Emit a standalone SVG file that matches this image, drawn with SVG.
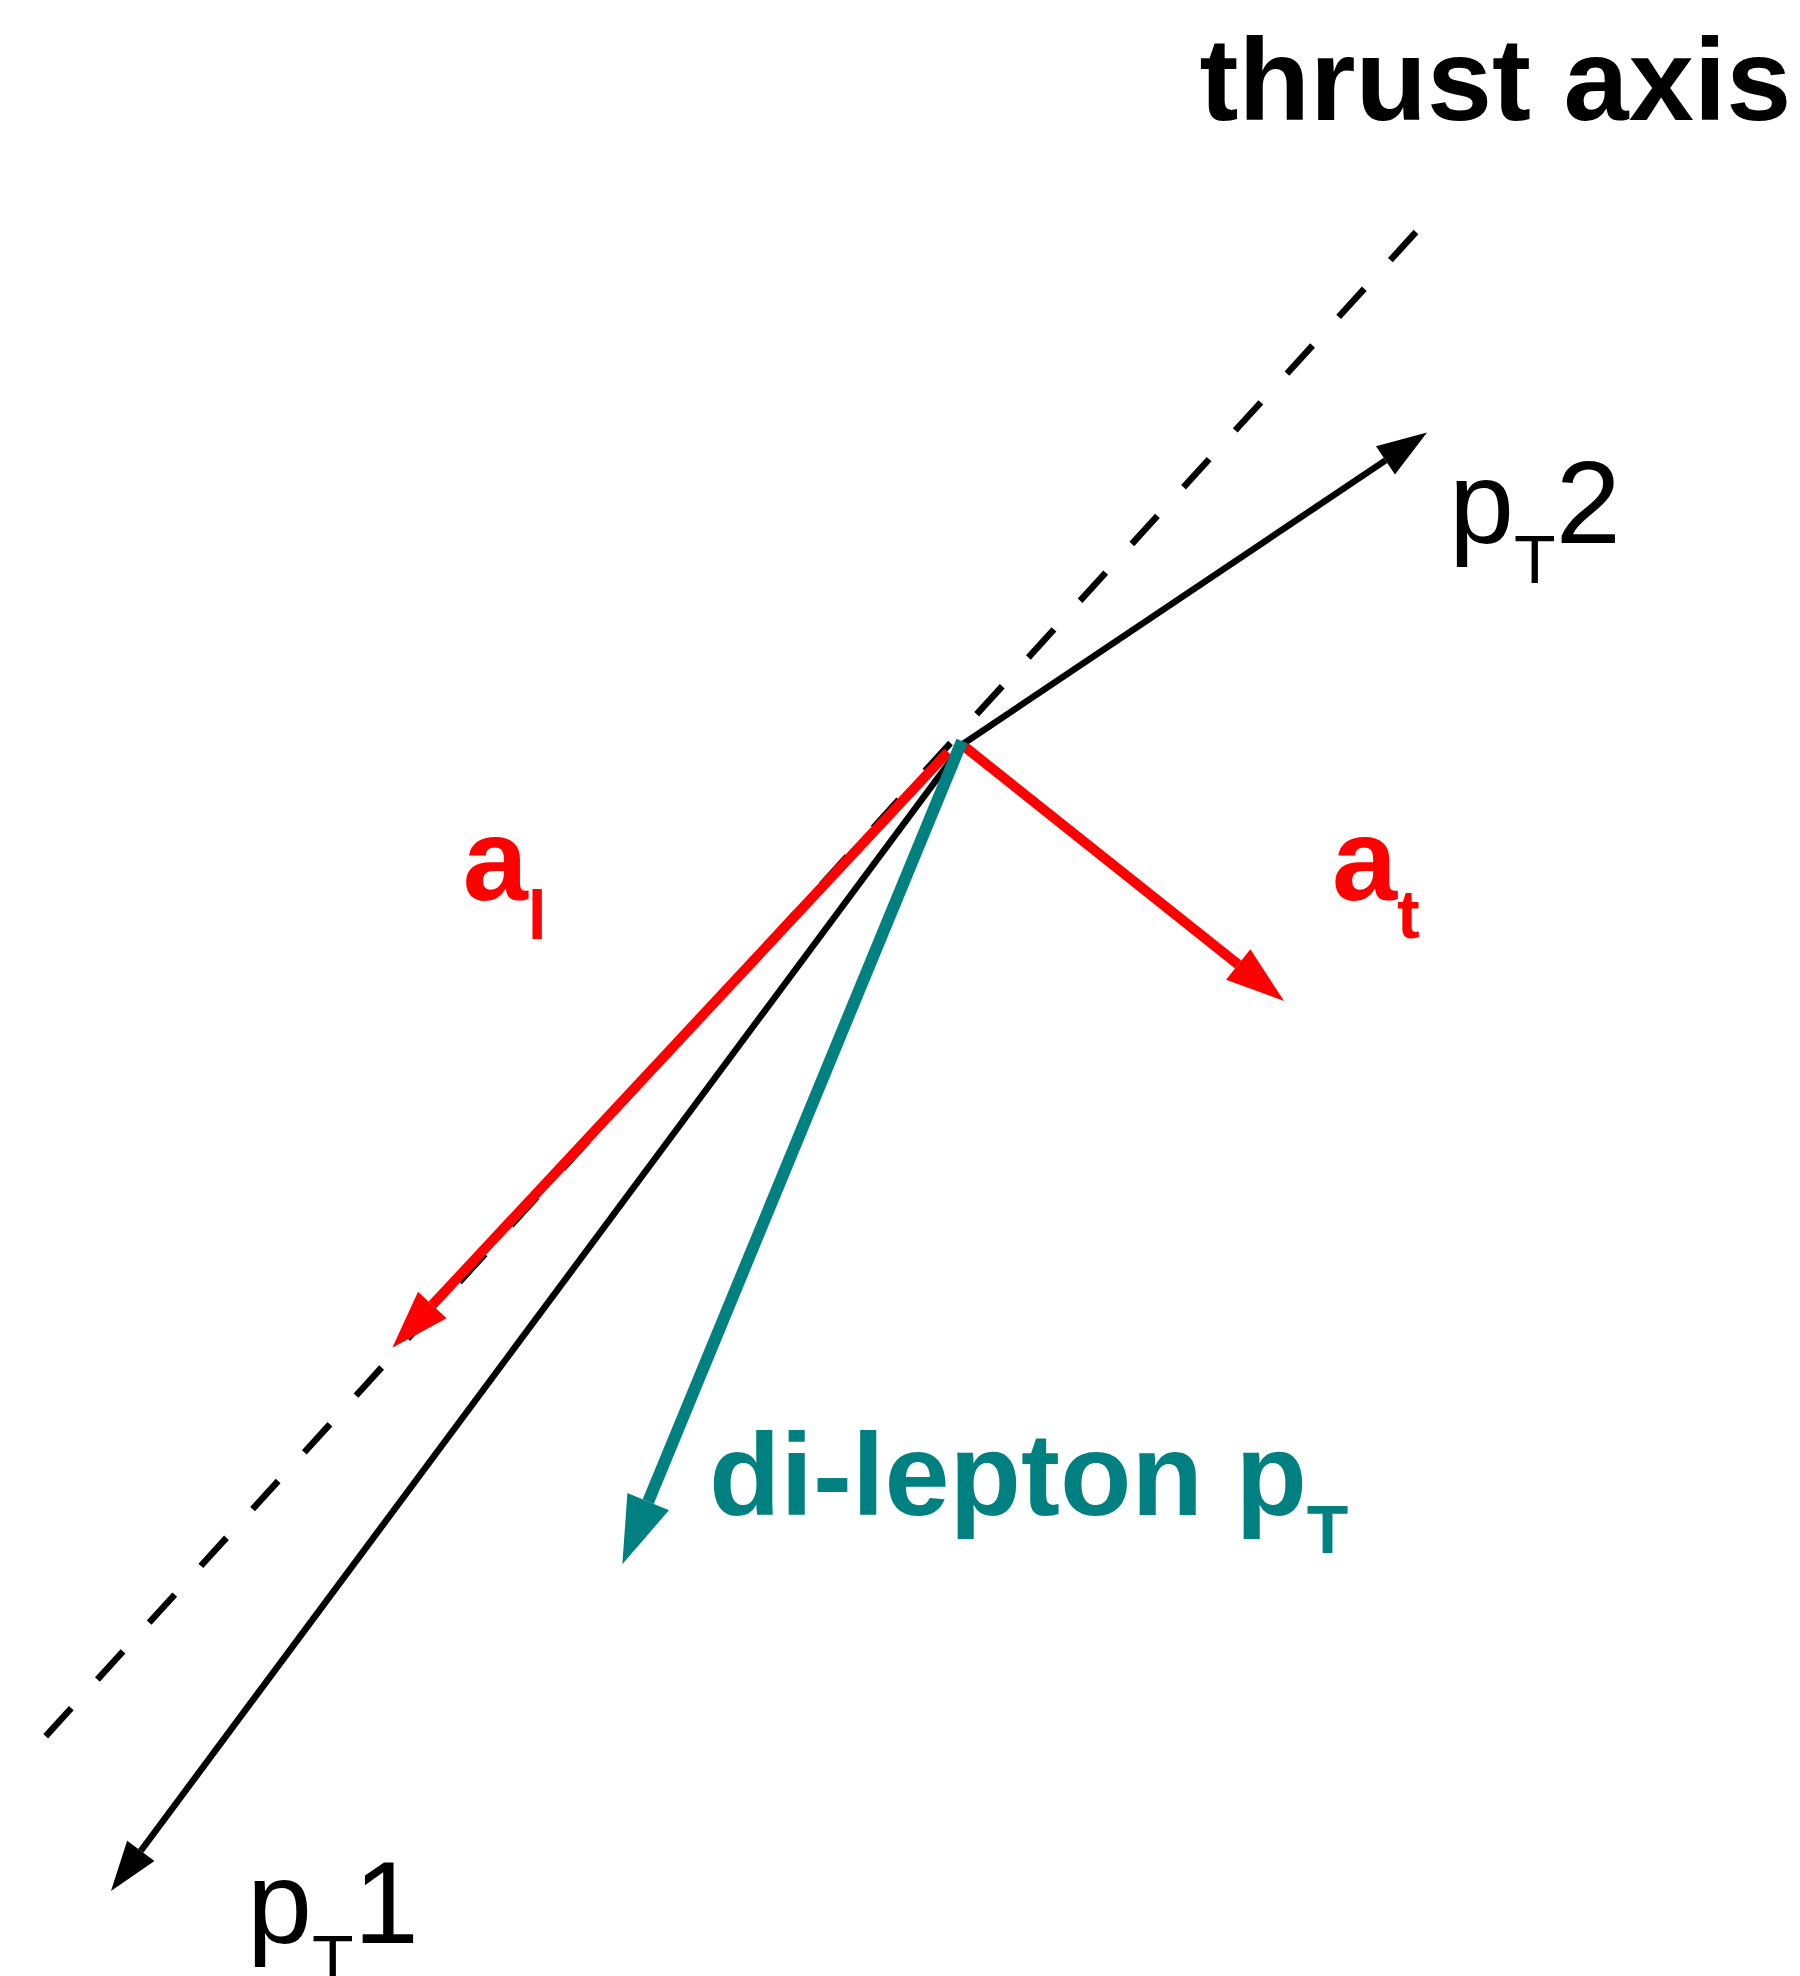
<svg xmlns="http://www.w3.org/2000/svg" width="1800" height="1976" viewBox="0 0 1800 1976">
<style>
.t{font-family:"Liberation Sans",Arial,Helvetica,sans-serif}
.b{font-weight:bold}
.blk{stroke:#000;stroke-width:6.5;fill:none}
.red{stroke:#FF0000;stroke-width:10;fill:none}
.teal{stroke:#008080;stroke-width:12;fill:none}
.dash{stroke:#000;stroke-width:6.5;fill:none;stroke-dasharray:38 38.8}
</style>
<defs>
<marker id="ab" markerUnits="userSpaceOnUse" orient="auto" refX="0" refY="0" markerWidth="60" markerHeight="40" overflow="visible"><path d="M0,-17 L50,0 L0,17 z" fill="#000"/></marker>
<marker id="ar" markerUnits="userSpaceOnUse" orient="auto" refX="0" refY="0" markerWidth="60" markerHeight="40" overflow="visible"><path d="M0,-19.5 L58.6,0 L0,19.5 z" fill="#FF0000"/></marker>
<marker id="at" markerUnits="userSpaceOnUse" orient="auto" refX="0" refY="0" markerWidth="70" markerHeight="50" overflow="visible"><path d="M0,-22.5 L67.8,0 L0,22.5 z" fill="#008080"/></marker>
</defs>
<rect width="1800" height="1976" fill="#fff"/>
<g id="connectors">
<line id="thrust-axis-line" class="dash" x1="1416" y1="232" x2="45" y2="1737"/>
<line id="pT2-arrow" class="blk" x1="963" y1="744" x2="1385.5" y2="460.4" marker-end="url(#ab)"/>
<line id="pT1-arrow" class="blk" x1="963" y1="744" x2="140.8" y2="1850.9" marker-end="url(#ab)"/>
<line id="at-arrow" class="red" x1="965" y1="747" x2="1238.2" y2="964.5" marker-end="url(#ar)"/>
<line id="al-arrow" class="red" x1="948" y1="752" x2="432.3" y2="1305" marker-end="url(#ar)"/>
<line id="dilepton-arrow" class="teal" x1="962" y1="741" x2="648.2" y2="1501.6" marker-end="url(#at)"/>
</g>
<g id="label-thrust-axis"><text class="t b" x="1199.6" y="120" font-size="117" fill="#000">thrust axis</text></g>
<g id="label-pT2"><text class="t" x="1449" y="543" font-size="117" fill="#000">p<tspan font-size="68" dy="40">T</tspan><tspan dy="-40">2</tspan></text></g>
<g id="label-pT1"><text class="t" x="247" y="1943" font-size="117" fill="#000">p<tspan font-size="68" dy="40">T</tspan><tspan dy="-40">1</tspan></text></g>
<g id="label-al"><text class="t b" x="462.7" y="900" font-size="117" fill="#FF0000">a<tspan font-size="68" dy="39">l</tspan></text></g>
<g id="label-at"><text class="t b" x="1332" y="900" font-size="117" fill="#FF0000">a<tspan font-size="68" dy="38">t</tspan></text></g>
<g id="label-dilepton"><text class="t b" x="709" y="1515" font-size="117" fill="#008080">di-lepton p<tspan font-size="68" dy="38">T</tspan></text></g>
</svg>
